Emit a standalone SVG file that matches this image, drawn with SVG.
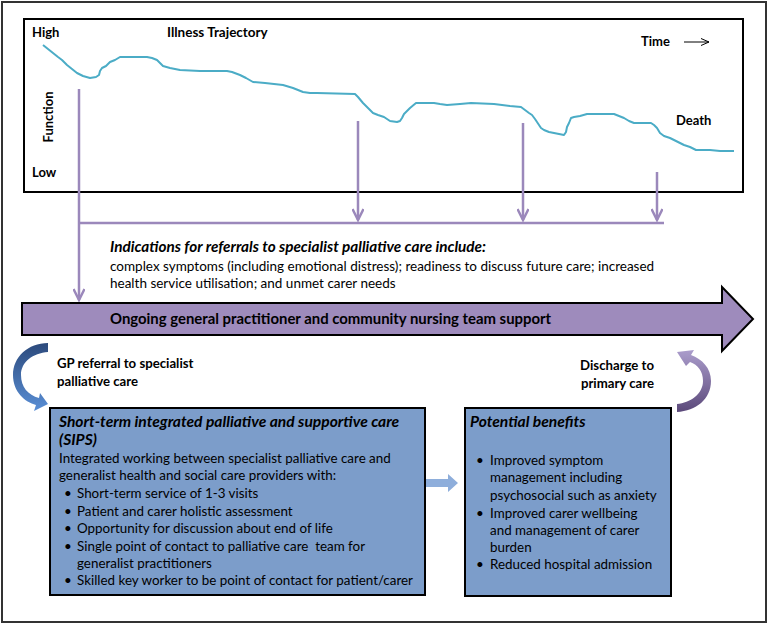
<svg xmlns="http://www.w3.org/2000/svg" width="768" height="625" viewBox="0 0 768 625">
<style>
.t{font-family:Lato,"Open Sans","Liberation Sans",sans-serif;fill:#000}
.b{font-weight:bold}
.bi{font-weight:bold;font-style:italic}
.lbl{font-size:13px;font-weight:bold}
.body{font-size:13.4px}
.hd{font-size:15.6px;font-weight:bold;font-style:italic}
.conn{stroke:#9b88bb;stroke-width:2.5;fill:none}
.box{fill:#7c9dca;stroke:#000;stroke-width:2}
</style>
<defs>
<marker id="pv" markerUnits="userSpaceOnUse" markerWidth="16" markerHeight="12" refX="13" refY="6" orient="auto">
<path d="M2,0.5 L13,6 L2,11.5" fill="none" stroke="#9b88bb" stroke-width="2.5"/>
</marker>
<marker id="blk" markerUnits="userSpaceOnUse" markerWidth="10" markerHeight="8" refX="9" refY="4" orient="auto">
<path d="M1,0.5 L9,4 L1,7.5" fill="none" stroke="#000" stroke-width="1"/>
</marker>
<linearGradient id="gb" x1="0" y1="0" x2="0" y2="1">
<stop offset="0" stop-color="#2c4a7c"/>
<stop offset="1" stop-color="#5a8fd6"/>
</linearGradient>
<linearGradient id="gp" x1="0" y1="0" x2="0" y2="1">
<stop offset="0" stop-color="#ab9dcc"/>
<stop offset="1" stop-color="#5b497a"/>
</linearGradient>
</defs>
<rect x="2" y="2" width="764" height="620" fill="#fff" stroke="#333" stroke-width="2"/>

<g id="chart">
<rect x="24" y="19" width="719" height="173" fill="#fff" stroke="#000" stroke-width="2"/>
<polyline fill="none" stroke="#4bacc6" stroke-width="2" stroke-linejoin="round" points="43,45 48,49 53,53 58,57 62,60 67,65 72,69 77,73 83,76 90,78 96,77 99,75 100,71 102,68 106,66 110,62 115,60 120,57 125,57 147,57 152,58 157,60 163,66 170,68 180,70 200,71 227,71 232,72 240,75 246,78 253,82 265,83 283,85 293,88 303,92 310,93 317,93 355,94 358,97 363,103 368,108 373,113 378,115 384,117 390,121 397,122 400,121 402,118 404,114 406,112 410,108 416,103 434,103 440,104 447,105 460,104 471,103 494,104 510,106 521,107 525,110 529,113 532,115 535,119 539,125 541,128 544,130 549,132 554,133 559,134 564,135 566,132 567,127 569,123 571,118 574,117 580,116 587,114 605,114 614,114 619,116 624,118 629,121 634,123 645,123 651,123 654,125 657,128 660,133 664,136 670,138 674,140 680,143 684,145 690,147 696,150 710,150 720,151 734,151"/>
<text class="t lbl" x="32" y="37">High</text>
<text class="t lbl" x="167" y="37" style="font-size:13.5px">Illness Trajectory</text>
<text class="t lbl" x="641" y="46">Time</text>
<line x1="684" y1="42" x2="709" y2="42" stroke="#000" stroke-width="1" marker-end="url(#blk)"/>
<text class="t lbl" x="0" y="0" text-anchor="middle" transform="translate(53,117) rotate(-90)">Function</text>
<text class="t lbl" x="32" y="177">Low</text>
<text class="t lbl" x="676" y="125">Death</text>
</g>

<g id="connectors">
<line class="conn" x1="79" y1="89" x2="79" y2="300" marker-end="url(#pv)"/>
<line class="conn" x1="358" y1="121" x2="358" y2="220" marker-end="url(#pv)"/>
<line class="conn" x1="523" y1="123" x2="523" y2="220" marker-end="url(#pv)"/>
<line class="conn" x1="657" y1="172" x2="657" y2="220" marker-end="url(#pv)"/>
<line class="conn" x1="79" y1="223" x2="664" y2="223"/>
<path d="M426,479 L448,479 L448,474 L458,483 L448,492 L448,487 L426,487 Z" fill="#8eaedb"/>
<path d="M48,343 C28,343 13,357 13,375 C13,392 25,402 36,405 L34,411 L48,404 L40,393 L39,398 C28,395 21,387 21,375 C21,362 33,353 48,352 Z" fill="url(#gb)"/>
<path d="M677,404 C690,403 703,394 703,381 C703,371 698,365 690,362 L686,366 L677,352 L694,350 L691,355 C702,359 711,368 711,381 C711,399 696,411 677,412 Z" fill="url(#gp)"/>
</g>

<g id="indications">
<text class="t bi" x="110" y="252" style="font-size:15.3px">Indications for referrals to specialist palliative care include:</text>
<text class="t" x="110" y="271" style="font-size:13.5px">complex symptoms (including emotional distress); readiness to discuss future care; increased</text>
<text class="t" x="110" y="288" style="font-size:13.5px">health service utilisation; and unmet carer needs</text>
</g>

<g id="ongoing">
<path d="M22,303 L722,303 L722,287 L753,319 L722,351 L722,335 L22,335 Z" fill="#9e8bbc" stroke="#000" stroke-width="2"/>
<text class="t b" x="110" y="324" style="font-size:14.9px">Ongoing general practitioner and community nursing team support</text>
</g>

<g id="gp-referral">
<text class="t lbl" x="57" y="368" style="font-size:13.2px">GP referral to specialist</text>
<text class="t lbl" x="57" y="386" style="font-size:13.2px">palliative care</text>
</g>

<g id="discharge">
<text class="t lbl" x="654" y="370" text-anchor="end" style="font-size:13.2px">Discharge to</text>
<text class="t lbl" x="654" y="388" text-anchor="end" style="font-size:13.2px">primary care</text>
</g>

<g id="sips">
<rect class="box" x="50" y="408" width="375" height="187"/>
<text class="t hd" x="59" y="427">Short-term integrated palliative and supportive care</text>
<text class="t hd" x="59" y="445">(SIPS)</text>
<text class="t body" x="59" y="463">Integrated working between specialist palliative care and</text>
<text class="t body" x="59" y="480">generalist health and social care providers with:</text>
<g class="t body">
<text x="64" y="498">•</text><text x="77" y="498">Short-term service of 1-3 visits</text>
<text x="64" y="516">•</text><text x="77" y="516">Patient and carer holistic assessment</text>
<text x="64" y="533">•</text><text x="77" y="533">Opportunity for discussion about end of life</text>
<text x="64" y="551">•</text><text x="77" y="551" xml:space="preserve">Single point of contact to palliative care  team for</text>
<text x="77" y="568">generalist practitioners</text>
<text x="64" y="585">•</text><text x="77" y="585">Skilled key worker to be point of contact for patient/carer</text>
</g>
</g>

<g id="benefits">
<rect class="box" x="465" y="408" width="206" height="188"/>
<text class="t hd" x="470" y="427">Potential benefits</text>
<g class="t body">
<text x="476" y="465">•</text><text x="490" y="465">Improved symptom</text>
<text x="490" y="482">management including</text>
<text x="490" y="500">psychosocial such as anxiety</text>
<text x="476" y="518">•</text><text x="490" y="518">Improved carer wellbeing</text>
<text x="490" y="535">and management of carer</text>
<text x="490" y="552">burden</text>
<text x="476" y="569">•</text><text x="490" y="569">Reduced hospital admission</text>
</g>
</g>
</svg>
